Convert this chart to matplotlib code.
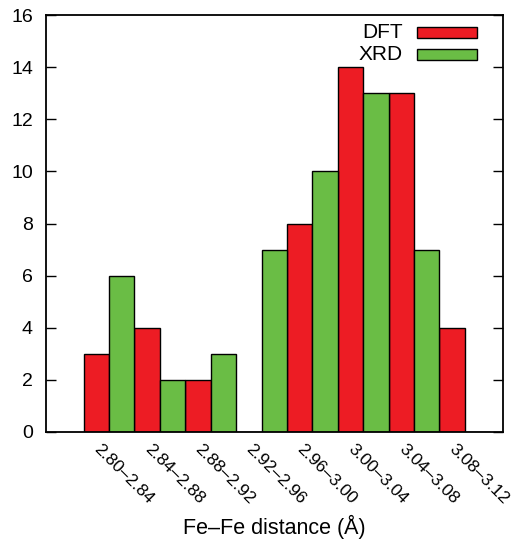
import matplotlib
matplotlib.use("Agg")
import matplotlib.pyplot as plt
import numpy as np
from matplotlib.patches import Rectangle
from matplotlib.transforms import ScaledTranslation

plt.rcParams['font.family'] = ['Liberation Sans', 'DejaVu Sans']

# Fe-Fe distance bins and counts per method
bins = ["2.80–2.84", "2.84–2.88", "2.88–2.92", "2.92–2.96",
        "2.96–3.00", "3.00–3.04", "3.04–3.08", "3.08–3.12"]
dft = [3, 4, 2, 0, 8, 14, 13, 4]
xrd = [6, 2, 3, 7, 10, 13, 7, 0]

red = "#ed1c24"
green = "#6abd45"

fig = plt.figure(figsize=(5.11, 5.41), dpi=100)
ax = fig.add_axes([45.5 / 511, 109 / 541, 457.5 / 511, 417 / 541])

x = np.arange(len(bins))
w = 0.5
ax.bar(x - w / 2, dft, w, color=red, edgecolor='black', linewidth=1.0, zorder=2)
ax.bar(x + w / 2, xrd, w, color=green, edgecolor='black', linewidth=1.0, zorder=2)

ax.set_xlim(-1.25, 7.75)
ax.set_ylim(0, 16)
ax.set_yticks(range(0, 17, 2))
ax.set_xticks([])
ax.tick_params(axis='y', direction='in', length=7, width=1.0, right=True,
               labelsize=14, pad=9)
for s in ax.spines.values():
    s.set_linewidth(1.3)
    s.set_zorder(3)

# rotated bin labels hanging below each group
off = ScaledTranslation(-13 / 100, -15 / 100, fig.dpi_scale_trans)
for xi, lab in zip(x, bins):
    ax.text(xi, 0, lab, transform=ax.get_xaxis_transform() + off,
            rotation=-45, rotation_mode='anchor', ha='left', va='center',
            fontsize=12.5)

ax.text(0.5, (432 - 526.5) / 417, "Fe–Fe distance (Å)", transform=ax.transAxes,
        ha='center', va='center', fontsize=15.5)

# key in the top right corner
for lab, col, yc in [("DFT", red, 0.959), ("XRD", green, 0.906)]:
    ax.text(0.781, yc, lab, transform=ax.transAxes, ha='right', va='center',
            fontsize=15)
    ax.add_patch(Rectangle((0.812, yc - 0.013), 0.131, 0.026, transform=ax.transAxes,
                           facecolor=col, edgecolor='black', linewidth=1.0, zorder=4))

fig.savefig("out.png", dpi=100)
